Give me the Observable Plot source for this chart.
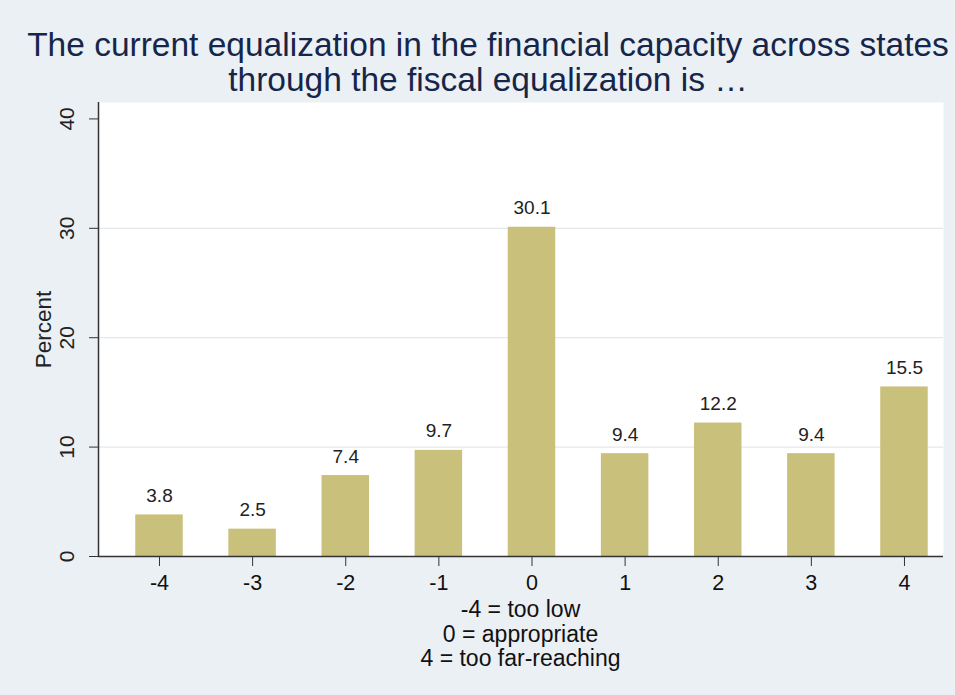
<!DOCTYPE html>
<html><head><meta charset="utf-8">
<script src="https://cdn.jsdelivr.net/npm/d3@7"></script>
<script src="https://cdn.jsdelivr.net/npm/@observablehq/plot@0.6"></script>
<style>
body{margin:0;background:#ebf0f5;}
#wrap{position:relative;width:955px;height:695px;background:#ebf0f5;font-family:"Liberation Sans",Arial,sans-serif;overflow:hidden}
#title{position:absolute;left:0;top:27px;width:976px;text-align:center;color:#16264a;font-size:33.5px;line-height:35px;white-space:nowrap}
#chart{position:absolute;left:0;top:96px}
#caption{position:absolute;left:98px;width:845px;top:597px;text-align:center;font-size:23px;line-height:24.5px;color:#111}
</style></head>
<body>
<div id="wrap">
  <div id="title">The current equalization in the financial capacity across states<br>through the fiscal equalization is …</div>
  <div id="chart"></div>
  <div id="caption">-4 = too low<br>0 = appropriate<br>4 = too far-reaching</div>
</div>
<script>
const categories = [-4, -3, -2, -1, 0, 1, 2, 3, 4];
const percents = [3.8, 2.5, 7.4, 9.7, 30.1, 9.4, 12.2, 9.4, 15.5];
const yTicks = [0, 10, 20, 30, 40];
const gridTicks = [10, 20, 30];
const xTickLabels = ["-4", "-3", "-2", "-1", "0", "1", "2", "3", "4"];

const data = categories.map((c, i) => ({x: c, p: percents[i]}));
const xDomain = [-4.655, 4.419];
const halfBar = 0.255;

const chart = Plot.plot({
  width: 955,
  height: 500,
  marginLeft: 98,
  marginRight: 12,
  marginTop: 6,
  marginBottom: 40,
  style: {background: "transparent", fontFamily: "'Liberation Sans', Arial, sans-serif", color: "#222", overflow: "visible"},
  x: {domain: xDomain},
  y: {domain: [0, 41.5]},
  marks: [
    Plot.frame({fill: "white", stroke: null}),
    Plot.gridY(gridTicks, {stroke: "#e4e8ec", strokeOpacity: 1, strokeWidth: 1.2}),
    Plot.rectY(data, {x1: d => d.x - halfBar, x2: d => d.x + halfBar, y: "p", fill: "#c9c07b"}),
    Plot.text(data, {x: "x", y: "p", text: d => d.p.toFixed(1), dy: -19, fontSize: 19, fill: "#222"}),
    Plot.ruleX([xDomain[0]], {stroke: "#333", strokeWidth: 1.5}),
    Plot.ruleY([0], {stroke: "#333", strokeWidth: 1.5}),
    Plot.axisY(yTicks, {tickRotate: -90, tickSize: 9, tickPadding: 16, fontSize: 21, stroke: "#333", fill: "#222",
      label: null}),
    Plot.text(["Percent"], {frameAnchor: "left", textAnchor: "middle", rotate: -90, dx: -55, fontSize: 22.5, fill: "#222"}),
    Plot.axisX(categories, {tickSize: 10, tickPadding: 8, fontSize: 21.5, stroke: "#333", fill: "#111",
      tickFormat: (d, i) => xTickLabels[i], label: null})
  ]
});
document.getElementById("chart").appendChild(chart);
</script>
</body></html>
